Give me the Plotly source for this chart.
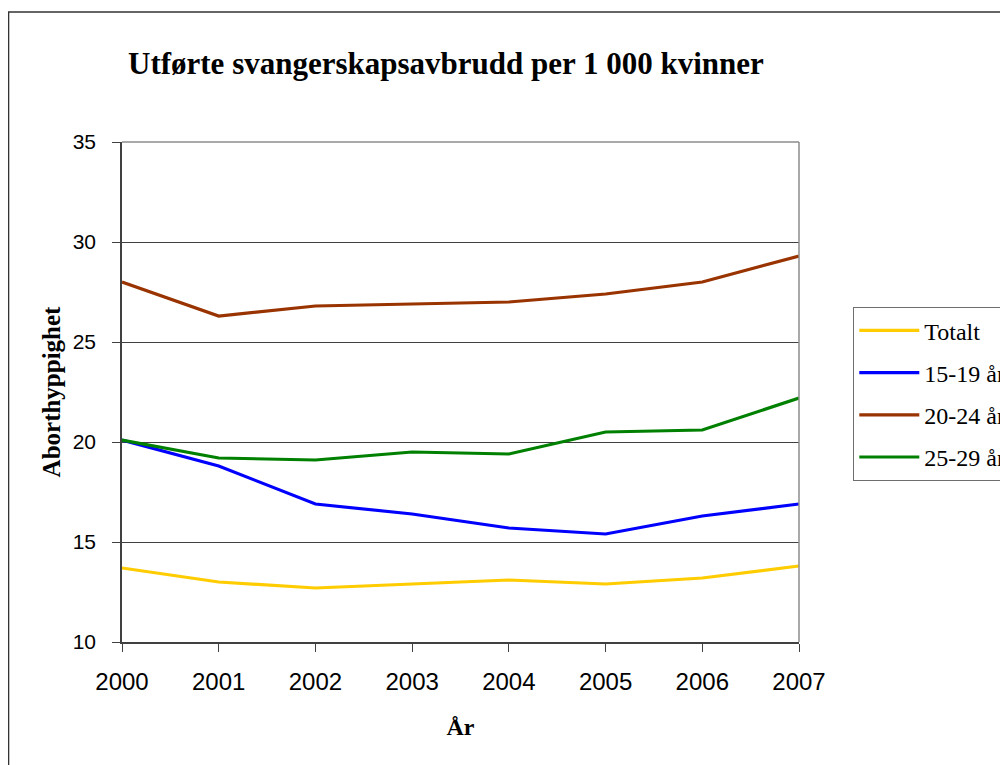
import plotly.graph_objects as go

years = [2000, 2001, 2002, 2003, 2004, 2005, 2006, 2007]
totalt = [13.7, 13.0, 12.7, 12.9, 13.1, 12.9, 13.2, 13.8]
age_15_19 = [20.1, 18.8, 16.9, 16.4, 15.7, 15.4, 16.3, 16.9]
age_20_24 = [28.0, 26.3, 26.8, 26.9, 27.0, 27.4, 28.0, 29.3]
age_25_29 = [20.1, 19.2, 19.1, 19.5, 19.4, 20.5, 20.6, 22.2]

series_names = ["Totalt", "15-19 år", "20-24 år", "25-29 år"]
series_values = [totalt, age_15_19, age_20_24, age_25_29]
series_colors = ["#FFCC00", "#0000FF", "#993300", "#008000"]

title_text = "Utførte svangerskapsavbrudd per 1 000 kvinner"
y_title = "Aborthyppighet"
x_title = "År"

# page has an 8px body margin; work in page pixel coordinates
OFF = 8
W, H = 1000, 757
L, R, T, B = 122 - OFF, 799 - OFF, 142 - OFF, 642 - OFF

fig = go.Figure()
for i, (name, vals, col) in enumerate(zip(series_names, series_values, series_colors)):
    fig.add_trace(go.Scatter(
        x=years, y=vals, name=name, mode="lines",
        line=dict(color=col, width=3.2),
        legendgroup=f"g{i}",
    ))

def px_x(p):
    return (p - OFF - L) / (R - L)

def px_y(p):
    return (B - (p - OFF)) / (B - T)

serif = "Liberation Serif, Times New Roman, serif"
sans = "Liberation Sans, Arial, sans-serif"

fig.update_layout(
    width=W, height=H,
    margin=dict(l=L, r=W - R, t=T, b=H - B, pad=0, autoexpand=False),
    paper_bgcolor="white", plot_bgcolor="white",
    showlegend=True,
    legend=dict(
        x=px_x(853), y=px_y(307), xanchor="left", yanchor="top",
        bordercolor="#6e6e6e", borderwidth=1.3, bgcolor="white",
        font=dict(family=serif, size=24, color="black"),
        tracegroupgap=8, itemwidth=60,
    ),
    xaxis=dict(
        range=[2000, 2007], tickmode="array", tickvals=years,
        ticktext=[str(y) for y in years],
        showgrid=False, zeroline=False, automargin=False,
        showline=True, linecolor="#404040", linewidth=1.5,
        ticks="outside", ticklen=8, tickcolor="#404040", tickwidth=1,
        tickfont=dict(family=sans, size=24, color="black"),
        ticklabelstandoff=9,
        title=dict(text=f"<b>{x_title}</b>", font=dict(family=serif, size=24, color="black"), standoff=25),
    ),
    yaxis=dict(
        range=[10, 35], tickmode="array", tickvals=[10, 15, 20, 25, 30, 35],
        showgrid=True, gridcolor="#404040", gridwidth=1,
        zeroline=False, automargin=False,
        showline=True, linecolor="#404040", linewidth=1.5,
        ticks="outside", ticklen=8, tickcolor="#404040", tickwidth=1,
        tickfont=dict(family=sans, size=21, color="black"),
        ticklabelstandoff=12,
        title=dict(text=f"<b>{y_title}</b>", font=dict(family=serif, size=25, color="black"), standoff=5),
    ),
    annotations=[dict(
        text=f"<b>{title_text}</b>", xref="paper", yref="paper",
        x=px_x(446), y=px_y(63), xanchor="center", yanchor="middle",
        showarrow=False, font=dict(family=serif, size=31, color="black"),
    )],
    shapes=[
        # outer chart frame
        dict(type="rect", xref="paper", yref="paper",
             x0=px_x(8.5), y0=px_y(800), x1=px_x(1050), y1=px_y(12),
             line=dict(color="#333333", width=1.6), layer="below"),
        # plot-area top and right border
        dict(type="line", xref="paper", yref="paper", x0=0, x1=1, y0=1, y1=1,
             line=dict(color="#8c8c8c", width=1.5)),
        dict(type="line", xref="paper", yref="paper", x0=1, x1=1, y0=0, y1=1,
             line=dict(color="#8c8c8c", width=1.5)),
    ],
)

fig.write_html("out.html")
